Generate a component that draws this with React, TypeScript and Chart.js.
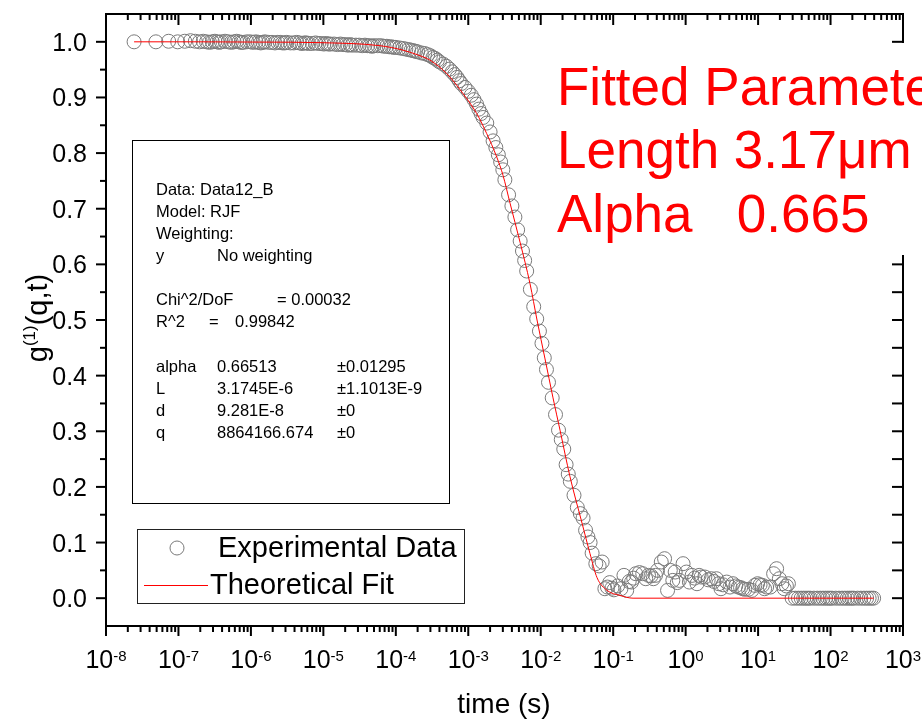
import React, { useEffect, useRef } from "react";
import { Chart, registerables } from "chart.js";

Chart.register(...registerables);

// ---- data ----
const lagTimes = [
  2.441e-8, 4.883e-8, 7.324e-8, 9.766e-8, 1.221e-7, 1.465e-7, 1.709e-7, 1.953e-7,
  2.197e-7, 2.441e-7, 2.686e-7, 2.93e-7, 3.174e-7, 3.418e-7, 3.662e-7, 3.906e-7,
  4.395e-7, 4.883e-7, 5.371e-7, 5.859e-7, 6.348e-7, 6.836e-7, 7.324e-7, 7.813e-7,
  8.789e-7, 9.766e-7, 1.074e-6, 1.172e-6, 1.27e-6, 1.367e-6, 1.465e-6, 1.563e-6,
  1.758e-6, 1.953e-6, 2.148e-6, 2.344e-6, 2.539e-6, 2.734e-6, 2.93e-6, 3.125e-6,
  3.516e-6, 3.906e-6, 4.297e-6, 4.688e-6, 5.078e-6, 5.469e-6, 5.859e-6, 6.25e-6,
  7.031e-6, 7.813e-6, 8.594e-6, 9.375e-6, 1.016e-5, 1.094e-5, 1.172e-5, 1.25e-5,
  1.406e-5, 1.563e-5, 1.719e-5, 1.875e-5, 2.031e-5, 2.188e-5, 2.344e-5, 2.5e-5,
  2.813e-5, 3.125e-5, 3.438e-5, 3.75e-5, 4.063e-5, 4.375e-5, 4.688e-5, 5e-5,
  5.625e-5, 6.25e-5, 6.875e-5, 7.5e-5, 8.125e-5, 8.75e-5, 9.375e-5, 1e-4,
  1.125e-4, 1.25e-4, 1.375e-4, 1.5e-4, 1.625e-4, 1.75e-4, 1.875e-4, 2e-4,
  2.25e-4, 2.5e-4, 2.75e-4, 3e-4, 3.25e-4, 3.5e-4, 3.75e-4, 4e-4,
  4.5e-4, 5e-4, 5.5e-4, 6e-4, 6.5e-4, 7e-4, 7.5e-4, 8e-4,
  9e-4, 1e-3, 1.1e-3, 1.2e-3, 1.3e-3, 1.4e-3, 1.5e-3, 1.6e-3,
  1.8e-3, 2e-3, 2.2e-3, 2.4e-3, 2.6e-3, 2.8e-3, 3e-3, 3.2e-3,
  3.6e-3, 4e-3, 4.4e-3, 4.8e-3, 5.2e-3, 5.6e-3, 6e-3, 6.4e-3,
  7.2e-3, 8e-3, 8.8e-3, 9.6e-3, 1.04e-2, 1.12e-2, 1.2e-2, 1.28e-2,
  1.44e-2, 1.6e-2, 1.76e-2, 1.92e-2, 2.08e-2, 2.24e-2, 2.4e-2, 2.56e-2,
  2.88e-2, 3.2e-2, 3.52e-2, 3.84e-2, 4.16e-2, 4.48e-2, 4.8e-2, 5.12e-2,
  5.76e-2, 6.4e-2, 7.04e-2, 7.68e-2, 8.32e-2, 8.96e-2, 9.6e-2, 0.1024,
  0.1152, 0.128, 0.1408, 0.1536, 0.1664, 0.1792, 0.192, 0.2048,
  0.2304, 0.256, 0.2816, 0.3072, 0.3328, 0.3584, 0.384, 0.4096,
  0.4608, 0.512, 0.5632, 0.6144, 0.6656, 0.7168, 0.768, 0.8192,
  0.9216, 1.024, 1.126, 1.229, 1.331, 1.434, 1.536, 1.638,
  1.843, 2.048, 2.253, 2.458, 2.662, 2.867, 3.072, 3.277,
  3.686, 4.096, 4.506, 4.915, 5.325, 5.734, 6.144, 6.554,
  7.373, 8.192, 9.011, 9.83, 10.65, 11.47, 12.29, 13.11,
  14.75, 16.38, 18.02, 19.66, 21.3, 22.94, 24.58, 26.21,
  29.49, 32.77, 36.04, 39.32, 42.6, 45.88, 49.15, 52.43,
  58.98, 65.54, 72.09, 78.64, 85.2, 91.75, 98.3, 104.9,
  118.0, 131.1, 144.2, 157.3, 170.4, 183.5, 196.6, 209.7,
  235.9, 262.1, 288.4, 314.6, 340.8, 367.0, 393.2,
];

const g1Measured = [
  1.0, 1.0, 1.001, 1.0, 1.001, 1.002, 1.001, 1.0, 1.001, 1.0, 0.999, 1.0, 1.001, 1.0, 0.999, 1.0,
  1.001, 1.0, 0.999, 1.0, 1.001, 1.0, 0.999, 0.999,
  1.0, 1.0, 0.999, 1.0, 0.999, 0.998, 0.999, 1.0,
  0.999, 0.999, 0.998, 0.999, 0.999, 0.998, 0.998, 0.999,
  0.998, 0.998, 0.999, 0.998, 0.997, 0.998, 0.998, 0.997,
  0.997, 0.998, 0.997, 0.997, 0.996, 0.997, 0.996, 0.996,
  0.996, 0.995, 0.996, 0.995, 0.995, 0.994, 0.995, 0.994,
  0.994, 0.994, 0.993, 0.994, 0.993, 0.993, 0.992, 0.993,
  0.993, 0.993, 0.992, 0.992, 0.991, 0.991, 0.99, 0.99,
  0.989, 0.988, 0.987, 0.986, 0.985, 0.984, 0.983, 0.982,
  0.98, 0.979, 0.977, 0.975, 0.972, 0.97, 0.967, 0.964,
  0.96, 0.956, 0.951, 0.946, 0.941, 0.936, 0.93, 0.925,
  0.918, 0.911, 0.904, 0.896, 0.888, 0.879, 0.871, 0.864,
  0.854, 0.838, 0.822, 0.81, 0.797, 0.784, 0.77, 0.752,
  0.725, 0.705, 0.685, 0.662, 0.642, 0.624, 0.607, 0.588,
  0.555, 0.524, 0.502, 0.48, 0.458, 0.432, 0.411, 0.388,
  0.36, 0.33, 0.302, 0.285, 0.268, 0.24, 0.223, 0.21,
  0.185, 0.163, 0.152, 0.144, 0.122, 0.11, 0.1, 0.081,
  0.062, 0.058, 0.065, 0.017, 0.02, 0.028, 0.018, 0.015,
  0.022, 0.017, 0.041, 0.014, 0.03, 0.029, 0.036, 0.044,
  0.046, 0.044, 0.035, 0.041, 0.04, 0.035, 0.041, 0.05,
  0.065, 0.071, 0.014, 0.05, 0.032, 0.047, 0.028, 0.032,
  0.062, 0.047, 0.029, 0.041, 0.036, 0.026, 0.041, 0.038,
  0.038, 0.033, 0.035, 0.03, 0.035, 0.026, 0.017, 0.024,
  0.029, 0.02, 0.026, 0.022, 0.02, 0.019, 0.017, 0.016,
  0.016, 0.014, 0.023, 0.026, 0.024, 0.023, 0.017, 0.02,
  0.02, 0.044, 0.053, 0.035, 0.026, 0.017, 0.022, 0.026,
  0, 0, 0, 0, 0, 0, 0, 0,
  0, 0, 0, 0, 0, 0, 0, 0,
  0, 0, 0, 0, 0, 0, 0, 0,
  0, 0, 0, 0, 0, 0, 0,
];

const fitTimes = [
  2.441e-8, 1.98e-7, 1.335e-6, 8.99e-6, 6.05e-5, 1.257e-4, 2.158e-4, 2.965e-4, 5.04e-4,
  8.46e-4, 1.308e-3, 1.797e-3, 2.47e-3, 3.018e-3, 3.77e-3, 5.18e-3, 7.12e-3, 8.89e-3,
  1.147e-2, 1.478e-2, 1.847e-2, 2.538e-2, 3.715e-2, 4.79e-2, 5.98e-2, 8.23e-2, 0.1243,
  0.188, 393.2,
];
const fitValues = [
  1.0, 1.0, 0.9995, 0.9985, 0.993, 0.985, 0.975, 0.967, 0.943,
  0.907, 0.871, 0.835, 0.793, 0.76, 0.71, 0.64, 0.565, 0.5,
  0.43, 0.36, 0.302, 0.218, 0.135, 0.08, 0.037, 0.014, 0.005,
  0.0, 0.0,
];

const xDecadeExponents = [-8, -7, -6, -5, -4, -3, -2, -1, 0, 1, 2, 3];
const yTickValues = [0, 0.1, 0.2, 0.3, 0.4, 0.5, 0.6, 0.7, 0.8, 0.9, 1.0];
const yTickLabels = ["0.0", "0.1", "0.2", "0.3", "0.4", "0.5", "0.6", "0.7", "0.8", "0.9", "1.0"];

const xTitle = "time (s)";
const legendLabels = ["Experimental Data", "Theoretical Fit"];
const annotationLines = ["Fitted Parameters", "Length 3.17\u03bcm", "Alpha   0.665"];

const FONT = '"Liberation Sans", Arial, Helvetica, sans-serif';
const MARKER_COLOR = "#7a7a7a";
const FIT_COLOR = "#ff0000";

const framePlugin = {
  id: "originFrame",
  afterDraw(chart: any) {
    const ctx: CanvasRenderingContext2D = chart.ctx;
    const xs = chart.scales.x;
    const ys = chart.scales.y;
    const { left, right, top, bottom } = chart.chartArea;
    ctx.save();

    // frame
    ctx.strokeStyle = "#000";
    ctx.lineWidth = 2;
    ctx.strokeRect(left, top, right - left, bottom - top);

    const line = (x1: number, y1: number, x2: number, y2: number) => {
      ctx.beginPath();
      ctx.moveTo(x1, y1);
      ctx.lineTo(x2, y2);
      ctx.stroke();
    };

    // x ticks (bottom outward, top inward)
    xDecadeExponents.forEach((e, i) => {
      const px = xs.getPixelForValue(Math.pow(10, e));
      line(px, bottom, px, bottom + 10);
      line(px, top, px, top + 11);
      if (i < xDecadeExponents.length - 1) {
        for (let m = 2; m <= 9; m++) {
          const mp = xs.getPixelForValue(m * Math.pow(10, e));
          line(mp, bottom, mp, bottom + 6);
          line(mp, top, mp, top + 6);
        }
      }
    });

    // y ticks
    yTickValues.forEach((v, i) => {
      const py = ys.getPixelForValue(v);
      line(left - 10, py, left, py);
      line(right - 11, py, right, py);
      if (i < yTickValues.length - 1) {
        const mp = ys.getPixelForValue(v + 0.05);
        line(left - 6, mp, left, mp);
        line(right - 11, mp, right, mp);
      }
    });

    // x tick labels with superscripts
    ctx.fillStyle = "#000";
    ctx.textBaseline = "alphabetic";
    ctx.textAlign = "left";
    xDecadeExponents.forEach((e) => {
      const px = xs.getPixelForValue(Math.pow(10, e));
      ctx.font = `25px ${FONT}`;
      const w1 = ctx.measureText("10").width;
      ctx.font = `15px ${FONT}`;
      const sup = e < 0 ? `-${-e}` : `${e}`;
      const w2 = ctx.measureText(sup).width;
      const x0 = px - (w1 + w2) / 2;
      ctx.font = `25px ${FONT}`;
      ctx.fillText("10", x0, 668);
      ctx.font = `15px ${FONT}`;
      ctx.fillText(sup, x0 + w1, 661);
    });

    // y tick labels
    ctx.font = `25px ${FONT}`;
    ctx.textAlign = "right";
    yTickValues.forEach((v, i) => {
      const py = ys.getPixelForValue(v);
      ctx.fillText(yTickLabels[i], left - 19, py + 9);
    });

    // x title
    ctx.textAlign = "center";
    ctx.font = `28px ${FONT}`;
    ctx.fillText(xTitle, 504, 713);

    // y title g^(1)(q,t)
    ctx.save();
    ctx.translate(47, 318);
    ctx.rotate(-Math.PI / 2);
    ctx.textAlign = "left";
    ctx.font = `29px ${FONT}`;
    const wg = ctx.measureText("g").width;
    const wq = ctx.measureText("(q,t)").width;
    ctx.font = `17px ${FONT}`;
    const ws = ctx.measureText("(1)").width;
    let tx = -(wg + ws + wq) / 2;
    ctx.font = `29px ${FONT}`;
    ctx.fillText("g", tx, 0);
    tx += wg;
    ctx.font = `17px ${FONT}`;
    ctx.fillText("(1)", tx, -12);
    tx += ws;
    ctx.font = `29px ${FONT}`;
    ctx.fillText("(q,t)", tx, 0);
    ctx.restore();

    // fit report box
    ctx.fillStyle = "#fff";
    ctx.fillRect(132, 140, 317, 363);
    ctx.strokeStyle = "#000";
    ctx.lineWidth = 1;
    ctx.strokeRect(132.5, 140.5, 317, 363);
    ctx.fillStyle = "#000";
    ctx.textAlign = "left";
    ctx.font = `16.5px ${FONT}`;
    const c1 = 156, c2 = 217, c3 = 337;
    const put = (t: string, x: number, y: number) => ctx.fillText(t, x, y);
    put("Data: Data12_B", c1, 195);
    put("Model: RJF", c1, 217);
    put("Weighting:", c1, 239);
    put("y", c1, 261);
    put("No weighting", c2, 261);
    put("Chi^2/DoF", c1, 305);
    put("= 0.00032", 277, 305);
    put("R^2", c1, 327);
    put("=", 209, 327);
    put("0.99842", 235, 327);
    put("alpha", c1, 372);
    put("0.66513", c2, 372);
    put("\u00b10.01295", c3, 372);
    put("L", c1, 394);
    put("3.1745E-6", c2, 394);
    put("\u00b11.1013E-9", c3, 394);
    put("d", c1, 416);
    put("9.281E-8", c2, 416);
    put("\u00b10", c3, 416);
    put("q", c1, 438);
    put("8864166.674", c2, 438);
    put("\u00b10", c3, 438);

    // legend box
    ctx.fillStyle = "#fff";
    ctx.fillRect(137, 529, 327, 74);
    ctx.strokeStyle = "#222";
    ctx.lineWidth = 1;
    ctx.strokeRect(137.5, 529.5, 327, 74);
    ctx.beginPath();
    ctx.arc(177, 548, 7, 0, Math.PI * 2);
    ctx.strokeStyle = MARKER_COLOR;
    ctx.stroke();
    ctx.strokeStyle = FIT_COLOR;
    line(144, 585.5, 208, 585.5);
    ctx.fillStyle = "#000";
    ctx.font = `29px ${FONT}`;
    ctx.fillText(legendLabels[0], 218, 557);
    ctx.fillText(legendLabels[1], 210, 594);

    // fitted parameters annotation
    ctx.fillStyle = "#fff";
    ctx.fillRect(553, 43, 369, 212);
    ctx.fillStyle = FIT_COLOR;
    ctx.font = `53px ${FONT}`;
    ctx.fillText(annotationLines[0], 557, 105);
    ctx.fillText(annotationLines[1], 557, 168);
    ctx.fillText(annotationLines[2], 557, 232);

    ctx.restore();
  },
};

export default function App() {
  const canvasRef = useRef<HTMLCanvasElement | null>(null);

  useEffect(() => {
    document.body.style.margin = "0";
    const canvas = canvasRef.current;
    if (!canvas) return;
    const measured = lagTimes.map((t, i) => ({ x: t, y: g1Measured[i] }));
    const fit = fitTimes.map((t, i) => ({ x: t, y: fitValues[i] }));
    const chart = new Chart(canvas, {
      type: "scatter",
      data: {
        datasets: [
          {
            label: legendLabels[1],
            data: fit,
            showLine: true,
            borderColor: FIT_COLOR,
            borderWidth: 1,
            pointRadius: 0,
            cubicInterpolationMode: "monotone",
            order: 0,
          } as any,
          {
            label: legendLabels[0],
            data: measured,
            showLine: false,
            pointRadius: 7,
            pointBorderWidth: 1,
            pointBorderColor: MARKER_COLOR,
            pointBackgroundColor: "rgba(0,0,0,0)",
            order: 1,
          } as any,
        ],
      },
      options: {
        animation: false,
        responsive: false,
        devicePixelRatio: 1,
        events: [],
        layout: { padding: { left: 106, right: 19, top: 14, bottom: 97 } },
        plugins: { legend: { display: false }, tooltip: { enabled: false } },
        scales: {
          x: { type: "logarithmic", min: 1e-8, max: 1e3, display: false },
          y: { type: "linear", min: -0.05, max: 1.05, display: false },
        },
      },
      plugins: [framePlugin],
    });
    return () => chart.destroy();
  }, []);

  return (
    <div style={{ width: 922, height: 723, background: "#fff" }}>
      <canvas ref={canvasRef} width={922} height={723} style={{ display: "block" }} />
    </div>
  );
}
